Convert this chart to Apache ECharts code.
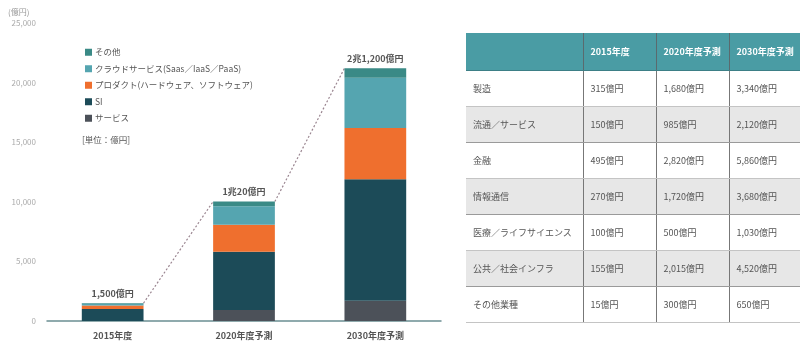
<!DOCTYPE html>
<html>
<head>
<meta charset="utf-8">
<script src="https://cdn.jsdelivr.net/npm/echarts@6/dist/echarts.min.js"></script>
<style>
  html, body { margin: 0; padding: 0; background: #fff; }
  #wrap { position: relative; width: 800px; height: 347px; overflow: hidden; }
  #chart { position: absolute; left: 0; top: 0; width: 800px; height: 347px; }
  #tbl {
    position: absolute; left: 466px; top: 33px; width: 334px;
    border-collapse: collapse; table-layout: fixed;
    font-family: "Noto Sans CJK JP", "Noto Sans", sans-serif; font-size: 9px; color: #555;
  }
  #tbl th {
    background: #4a9ca4; color: #fff; font-weight: bold; height: 37px;
    text-align: left; padding: 0 0 0 7px; white-space: nowrap;
    border-left: 1px solid #5a6a6e; border-bottom: 1px solid #3d7f86;
  }
  #tbl td {
    height: 35px; padding: 0 0 0 7px; white-space: nowrap;
    border-left: 1px solid #777; border-bottom: 1px solid #c4c4c4;
  }
  #tbl tr.shade td { background: #e7e7e7; border-bottom: 1px solid #9a9a9a; }
  #tbl th:first-child, #tbl td:first-child { border-left: none; }
</style>
</head>
<body>
<div id="wrap">
  <div id="chart"></div>
  <table id="tbl"></table>
</div>
<script>
// Market size by segment (億円)
const categories = ['2015年度', '2020年度予測', '2030年度予測'];
const service = [0, 920, 1700];
const si = [1000, 4900, 10200];
const product = [300, 2250, 4300];
const cloud = [170, 1550, 4200];
const other = [30, 400, 800];
const totals = [1500, 10020, 21200];
const totalLabels = ['1,500億円', '1兆20億円', '2兆1,200億円'];
const yTicks = [0, 5000, 10000, 15000, 20000, 25000];

// Industry breakdown table
const tableHeader = ['', '2015年度', '2020年度予測', '2030年度予測'];
const industries = ['製造', '流通／サービス', '金融', '情報通信', '医療／ライフサイエンス', '公共／社会インフラ', 'その他業種'];
const fy2015 = ['315億円', '150億円', '495億円', '270億円', '100億円', '155億円', '15億円'];
const fy2020 = ['1,680億円', '985億円', '2,820億円', '1,720億円', '500億円', '2,015億円', '300億円'];
const fy2030 = ['3,340億円', '2,120億円', '5,860億円', '3,680億円', '1,030億円', '4,520億円', '650億円'];

const FONT = '"Noto Sans CJK JP", "Noto Sans", sans-serif';
const colors = {
  other: '#3a8a86',
  cloud: '#55a5b0',
  product: '#ef6f2e',
  si: '#1c4b58',
  service: '#4c5159'
};
const BAR_W = '47%';

// connector segments between neighbouring bar tops
const links = totals.slice(0, -1).map((v, i) => [i, v, totals[i + 1]]);

const chart = echarts.init(document.getElementById('chart'), null, { renderer: 'canvas' });

function barSeries(name, data, color, extra) {
  return Object.assign({
    name: name, type: 'bar', stack: 'total', data: data, barWidth: BAR_W,
    itemStyle: { color: color }, emphasis: { disabled: true }
  }, extra || {});
}

chart.setOption({
  animation: false,
  textStyle: { fontFamily: FONT },
  grid: { left: 47, width: 394, top: 23, bottom: 26 },
  graphic: [
    { type: 'text', left: 8, top: 8, style: { text: '(億円)', fill: '#999', font: '8px ' + FONT } },
    { type: 'text', left: 82, top: 136, style: { text: '[単位：億円]', fill: '#555', font: '8.5px ' + FONT } }
  ],
  legend: {
    orient: 'vertical', left: 80, top: 43, itemWidth: 7, itemHeight: 7, itemGap: 8,
    icon: 'rect', selectedMode: false,
    textStyle: { fontSize: 8.5, color: '#555', fontFamily: FONT, padding: [0, 0, 0, -2] },
    data: ['その他', 'クラウドサービス(Saas／IaaS／PaaS)', 'プロダクト(ハードウェア、ソフトウェア)', 'SI', 'サービス']
  },
  xAxis: {
    type: 'category', data: categories,
    axisLine: { lineStyle: { color: '#6b8e93', width: 1.5 } },
    axisTick: { show: false },
    axisLabel: { color: '#555', fontSize: 9, fontWeight: 'bold', margin: 10, fontFamily: FONT }
  },
  yAxis: {
    type: 'value', min: yTicks[0], max: yTicks[yTicks.length - 1], interval: yTicks[1] - yTicks[0],
    axisLine: { show: false }, axisTick: { show: false }, splitLine: { show: false },
    axisLabel: {
      color: '#aaa', fontSize: 8, margin: 11, fontFamily: FONT,
      formatter: v => v.toLocaleString('en-US')
    }
  },
  series: [
    barSeries('サービス', service, colors.service),
    barSeries('SI', si, colors.si),
    barSeries('プロダクト(ハードウェア、ソフトウェア)', product, colors.product),
    barSeries('クラウドサービス(Saas／IaaS／PaaS)', cloud, colors.cloud),
    barSeries('その他', other, colors.other, {
      label: {
        show: true, position: 'top', distance: 5, color: '#555', fontSize: 9, fontWeight: 'bold',
        fontFamily: FONT, formatter: p => totalLabels[p.dataIndex]
      }
    }),
    {
      type: 'custom', name: 'trend', silent: true, z: 1,
      data: links,
      renderItem: function (params, api) {
        const i = api.value(0);
        const a = api.coord([i, api.value(1)]);
        const b = api.coord([i + 1, api.value(2)]);
        const half = api.size([1, 0])[0] * 0.47 / 2;
        return {
          type: 'line',
          shape: { x1: a[0] + half, y1: a[1], x2: b[0] - half, y2: b[1] },
          style: { stroke: '#9a8590', lineWidth: 1.2, lineDash: [2, 2] }
        };
      }
    }
  ]
});

// build the table
const tbl = document.getElementById('tbl');
const colW = [117, 73, 73, 71];
const cg = document.createElement('colgroup');
colW.forEach(w => { const c = document.createElement('col'); c.style.width = w + 'px'; cg.appendChild(c); });
tbl.appendChild(cg);
const hr = document.createElement('tr');
tableHeader.forEach(h => { const th = document.createElement('th'); th.textContent = h; hr.appendChild(th); });
tbl.appendChild(hr);
industries.forEach((name, r) => {
  const tr = document.createElement('tr');
  if (r % 2 === 1) tr.className = 'shade';
  [name, fy2015[r], fy2020[r], fy2030[r]].forEach(t => {
    const td = document.createElement('td'); td.textContent = t; tr.appendChild(td);
  });
  tbl.appendChild(tr);
});
</script>
</body>
</html>
